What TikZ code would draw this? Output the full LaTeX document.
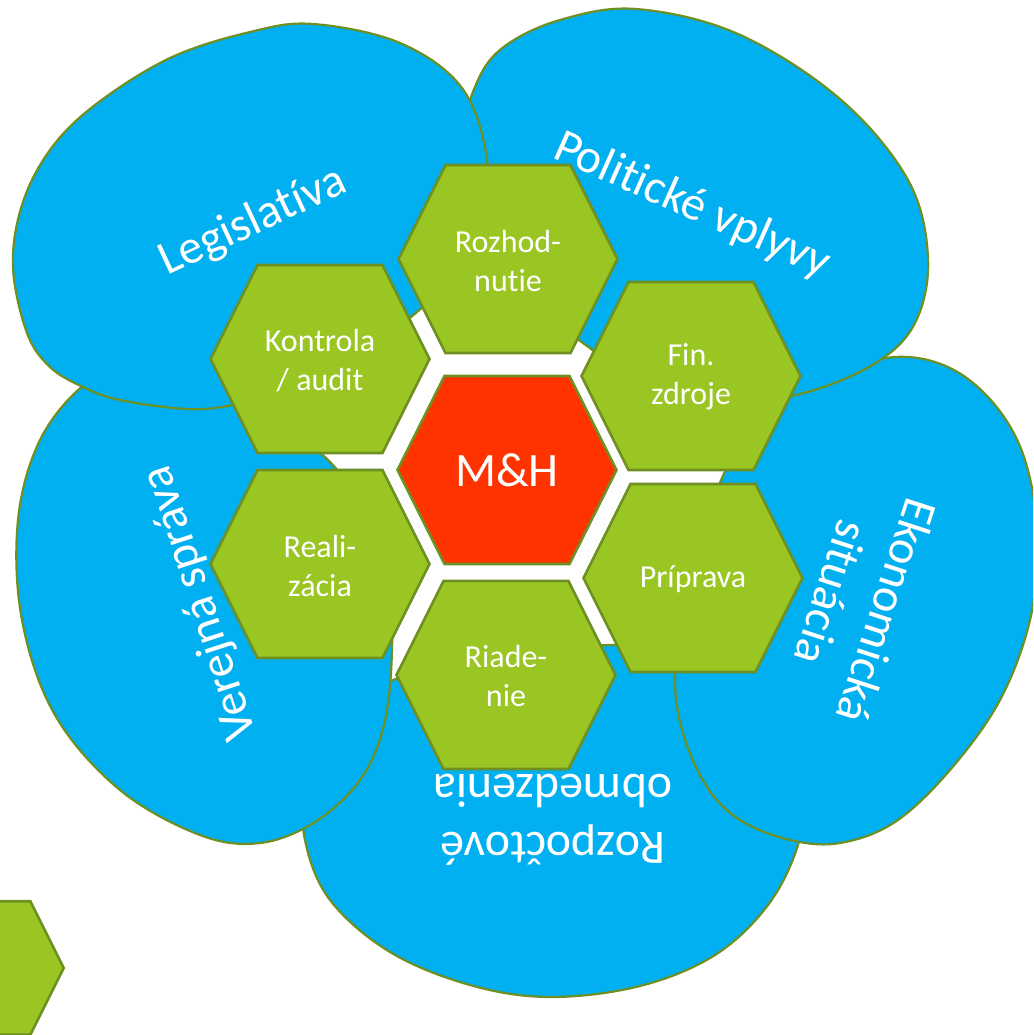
\documentclass[tikz,border=0pt]{standalone}
\usepackage{fontspec}
\setmainfont{Carlito}[Ligatures=NoCommon]
\definecolor{blobblue}{HTML}{00B0F0}
\definecolor{hexgreen}{HTML}{9AC623}
\definecolor{edgeolive}{HTML}{6E8F22}
\definecolor{mhred}{HTML}{FF3300}
\begin{document}
\begin{tikzpicture}[x=1pt,y=-1pt,
  blob/.style={fill=blobblue, draw=edgeolive, line width=2.2pt},
  hexcell/.style={fill=hexgreen, draw=edgeolive, line width=2.6pt, line join=miter},
  hexlbl/.style={text=white, align=center, font=\fontsize{32}{39}\selectfont, inner sep=0pt},
  bloblbl/.style={text=white, align=center, font=\fontsize{48}{58}\selectfont, inner sep=0pt},
  hexa/.pic={\path[pic actions] (-109.5,0) -- (-62.5,-94) -- (62.5,-94) -- (109.5,0) -- (62.5,94) -- (-62.5,94) -- cycle;}
]
\useasboundingbox (0,0) rectangle (1033,1035);
\clip (0,0) rectangle (1033,1035);

% blobs
\draw[blob] plot[smooth cycle, tension=0.6] coordinates {(393,680) (335,720) (305,780) (305,840) (330,900) (390,952) (470,985) (550,997) (640,986) (715,955) (768,905) (798,845) (808,780) (795,715) (750,668) (680,648) (610,645) (500,655)};
\draw[blob] plot[smooth cycle, tension=0.6] coordinates {(793,395) (830,375) (895,357) (950,368) (995,405) (1025,460) (1038,540) (1030,620) (1000,700) (950,770) (895,822) (840,843) (790,840) (740,820) (707,787) (683,733) (675,675) (685,590) (722,478) (755,432)};
\draw[blob] plot[smooth cycle, tension=0.6] coordinates {(467,130) (478,80) (505,46) (560,20) (636,9) (738,34) (840,99) (908,180) (928,258) (915,323) (874,364) (800,394) (720,402) (650,385) (587,346) (530,295) (485,215)};
\draw[blob] plot[smooth cycle, tension=0.6] coordinates {(83,386) (40,440) (18,520) (22,620) (55,715) (120,790) (200,835) (260,843) (315,822) (360,780) (384,725) (392,650) (388,580) (365,515) (330,462) (270,418) (180,385) (120,378)};
\draw[blob] plot[smooth cycle, tension=0.6] coordinates {(13,267) (22,205) (50,150) (95,105) (170,58) (250,32) (313,24) (400,43) (462,88) (487,160) (480,230) (450,280) (417,312) (360,355) (290,390) (233,405) (187,409) (120,400) (83,387) (50,367) (27,333)};

% blob labels
\node[bloblbl, rotate=25] (legis) at (253,222) {Legislatíva};
\node[bloblbl, rotate=-24] (polit) at (692,206) {Politické vplyvy};
\node[bloblbl, rotate=-108] (ekon) at (860,602) {Ekonomická\\situácia};
\node[bloblbl, rotate=180] (rozp) at (553,820) {Rozpočtové\\obmedzenia};
\node[bloblbl, rotate=108] (verej) at (201,603) {Verejná správa};

% hexagons
\pic[hexcell, fill=mhred] at (507,470) {hexa};
\pic[hexcell] at (508,259) {hexa};
\pic[hexcell] at (691,376) {hexa};
\pic[hexcell] at (693,578) {hexa};
\pic[hexcell] at (506,675) {hexa};
\pic[hexcell] at (320,564) {hexa};
\pic[hexcell] at (320,359) {hexa};
\pic[hexcell, scale=0.71] at (-14,968) {hexa};

% hex labels
\node[hexlbl, font=\fontsize{48}{56}\selectfont] (mh) at (507,470) {M\&H};
\node[hexlbl] (rozh) at (508,261) {Rozhod-\\nutie};
\node[hexlbl] (fin) at (691,377) {Fin.\\zdroje};
\node[hexlbl] (prip) at (693,579) {Príprava};
\node[hexlbl] (riad) at (506,676) {Riade-\\nie};
\node[hexlbl] (real) at (320,566) {Reali-\\zácia};
\node[hexlbl] (kontr) at (320,361) {Kontrola\\/ audit};
\end{tikzpicture}
\end{document}
